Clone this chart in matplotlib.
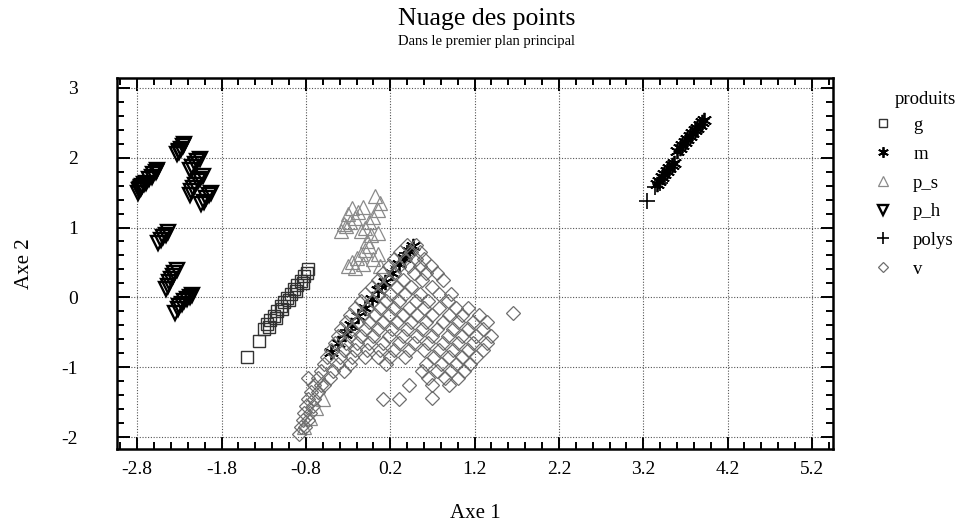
import numpy as np
import matplotlib
matplotlib.use("Agg")
import matplotlib.pyplot as plt
from matplotlib.ticker import FixedLocator

plt.rcParams['font.family'] = ['Liberation Serif', 'DejaVu Serif']
plt.rcParams['axes.unicode_minus'] = False

# ---- data ----
g_pts = [(-1.50, -0.86), (-1.36, -0.62), (-1.30, -0.45), (-1.26, -0.38), (-1.24, -0.42),
         (-1.22, -0.32), (-1.18, -0.26), (-1.16, -0.29), (-1.14, -0.20), (-1.10, -0.13),
         (-1.08, -0.16), (-1.06, -0.07), (-1.02, -0.01), (-1.00, -0.04), (-0.98, 0.05),
         (-0.94, 0.12), (-0.92, 0.09), (-0.90, 0.18), (-0.86, 0.24), (-0.84, 0.21),
         (-0.82, 0.30), (-0.79, 0.35), (-0.78, 0.40)]

m_pts = [(3.60, 2.10), (3.63, 2.14), (3.66, 2.18), (3.69, 2.22), (3.72, 2.27), (3.75, 2.31),
         (3.78, 2.35), (3.81, 2.39), (3.84, 2.43), (3.87, 2.47), (3.90, 2.51), (3.92, 2.54),
         (3.36, 1.62), (3.39, 1.67), (3.42, 1.72), (3.45, 1.77), (3.48, 1.81), (3.51, 1.85),
         (3.54, 1.89), (3.57, 1.93),
         (-0.50, -0.78), (-0.42, -0.65), (-0.34, -0.52), (-0.26, -0.40), (-0.18, -0.27),
         (-0.10, -0.15), (-0.02, -0.02), (0.06, 0.10), (0.14, 0.22), (0.22, 0.35),
         (0.30, 0.48), (0.36, 0.57), (0.42, 0.66), (0.47, 0.74)]

p_s_pts = [(-0.38, 0.95), (-0.35, 1.05), (-0.33, 1.02), (-0.30, 1.20), (-0.28, 1.08),
           (-0.25, 1.28), (-0.22, 1.14), (-0.18, 1.22), (-0.15, 0.95), (-0.12, 1.30),
           (-0.10, 1.00), (-0.05, 1.08), (-0.03, 0.90), (0.00, 1.15), (0.02, 1.45),
           (0.05, 1.25), (0.05, 0.92), (0.08, 1.35),
           (-0.30, 0.45), (-0.25, 0.50), (-0.22, 0.42), (-0.20, 0.56), (-0.15, 0.62),
           (-0.12, 0.48), (-0.10, 0.68), (-0.08, 0.80), (-0.05, 0.74), (0.00, 0.55),
           (0.05, 0.62), (0.08, 0.45),
           (-0.82, -1.85), (-0.75, -1.72), (-0.68, -1.58), (-0.60, -1.45)]

p_h_pts = [(-2.79, 1.50), (-2.78, 1.53), (-2.77, 1.55), (-2.76, 1.57), (-2.75, 1.58),
           (-2.74, 1.60), (-2.72, 1.62), (-2.70, 1.64), (-2.66, 1.70), (-2.63, 1.73),
           (-2.61, 1.76), (-2.58, 1.80), (-2.56, 1.83),
           (-2.33, 2.05), (-2.31, 2.08), (-2.30, 2.10), (-2.28, 2.13), (-2.26, 2.16), (-2.24, 2.19),
           (-2.18, 1.83), (-2.15, 1.87), (-2.12, 1.91), (-2.09, 1.95), (-2.06, 1.98),
           (-2.18, 1.47), (-2.16, 1.52), (-2.14, 1.56), (-2.11, 1.61), (-2.08, 1.66),
           (-2.05, 1.70), (-2.02, 1.74),
           (-2.04, 1.33), (-2.01, 1.37), (-1.98, 1.42), (-1.95, 1.46), (-1.92, 1.50),
           (-2.55, 0.78), (-2.52, 0.82), (-2.49, 0.86), (-2.46, 0.90), (-2.43, 0.93),
           (-2.46, 0.12), (-2.44, 0.17), (-2.42, 0.22), (-2.40, 0.27), (-2.38, 0.31),
           (-2.36, 0.35), (-2.33, 0.39),
           (-2.35, -0.22), (-2.32, -0.17), (-2.30, -0.13), (-2.27, -0.09), (-2.24, -0.05),
           (-2.21, -0.02), (-2.18, 0.01), (-2.15, 0.03)]

polys_pts = [(3.25, 1.38), (3.34, 1.58), (3.40, 1.64), (-0.30, -0.46), (0.10, 0.16), (0.40, 0.63)]

v_pts = [(0.40, 0.75), (0.50, 0.75),
         (0.32, 0.65), (0.45, 0.65), (0.55, 0.65),
         (0.25, 0.55), (0.38, 0.55), (0.50, 0.55), (0.60, 0.55),
         (0.18, 0.45), (0.30, 0.45), (0.42, 0.45), (0.55, 0.45), (0.68, 0.45),
         (0.12, 0.35), (0.25, 0.35), (0.48, 0.35), (0.62, 0.35), (0.75, 0.35),
         (0.05, 0.25), (0.18, 0.25), (0.35, 0.25), (0.58, 0.25), (0.82, 0.25),
         (-0.02, 0.15), (0.12, 0.15), (0.28, 0.15), (0.45, 0.15), (0.70, 0.15),
         (-0.10, 0.05), (0.05, 0.05), (0.20, 0.05), (0.38, 0.05), (0.55, 0.05), (0.78, 0.05), (0.92, 0.05),
         (-0.15, -0.05), (0.00, -0.05), (0.15, -0.05), (0.30, -0.05), (0.50, -0.05), (0.65, -0.05), (0.88, -0.05),
         (-0.22, -0.15), (-0.08, -0.15), (0.08, -0.15), (0.25, -0.15), (0.42, -0.15), (0.60, -0.15),
         (0.78, -0.15), (0.98, -0.15), (1.12, -0.15),
         (-0.28, -0.25), (-0.12, -0.25), (0.02, -0.25), (0.18, -0.25), (0.35, -0.25), (0.52, -0.25),
         (0.70, -0.25), (0.90, -0.25), (1.05, -0.25), (1.25, -0.25),
         (-0.32, -0.35), (-0.18, -0.35), (-0.05, -0.35), (0.12, -0.35), (0.28, -0.35), (0.45, -0.35),
         (0.62, -0.35), (0.82, -0.35), (1.00, -0.35), (1.18, -0.35), (1.35, -0.35),
         (-0.38, -0.45), (-0.25, -0.45), (-0.10, -0.45), (0.05, -0.45), (0.22, -0.45), (0.40, -0.45),
         (0.58, -0.45), (0.75, -0.45), (0.95, -0.45), (1.12, -0.45), (1.30, -0.45),
         (-0.42, -0.55), (-0.28, -0.55), (-0.15, -0.55), (0.00, -0.55), (0.18, -0.55), (0.35, -0.55),
         (0.52, -0.55), (0.70, -0.55), (0.88, -0.55), (1.05, -0.55), (1.22, -0.55), (1.40, -0.55),
         (-0.45, -0.65), (-0.32, -0.65), (-0.20, -0.65), (-0.05, -0.65), (0.12, -0.65), (0.30, -0.65),
         (0.48, -0.65), (0.65, -0.65), (0.82, -0.65), (1.00, -0.65), (1.18, -0.65), (1.35, -0.65),
         (-0.50, -0.75), (-0.35, -0.75), (-0.22, -0.75), (-0.08, -0.75), (0.08, -0.75), (0.25, -0.75),
         (0.42, -0.75), (0.60, -0.75), (0.78, -0.75), (0.95, -0.75), (1.12, -0.75), (1.30, -0.75),
         (-0.55, -0.85), (-0.40, -0.85), (-0.25, -0.85), (-0.10, -0.85), (0.05, -0.85), (0.20, -0.85),
         (0.38, -0.85), (0.72, -0.85), (0.90, -0.85), (1.05, -0.85), (1.22, -0.85),
         (-0.58, -0.95), (-0.42, -0.95), (-0.28, -0.95), (0.15, -0.95), (0.62, -0.95), (0.80, -0.95),
         (0.98, -0.95), (1.15, -0.95),
         (-0.62, -1.05), (-0.48, -1.05), (-0.35, -1.05), (0.58, -1.05), (0.75, -1.05), (0.92, -1.05), (1.08, -1.05),
         (-0.66, -1.15), (-0.52, -1.15), (0.65, -1.15), (0.85, -1.15), (1.00, -1.15),
         (-0.70, -1.25), (-0.58, -1.25), (0.42, -1.25), (0.70, -1.25), (0.90, -1.25),
         (0.12, -1.46), (0.30, -1.46), (0.70, -1.44), (1.66, -0.23), (-0.77, -1.16),
         (-0.66, -1.35), (-0.62, -1.25), (-0.74, -1.35), (-0.70, -1.45), (-0.78, -1.45),
         (-0.72, -1.55), (-0.80, -1.55), (-0.75, -1.65), (-0.82, -1.65), (-0.78, -1.75),
         (-0.84, -1.75), (-0.81, -1.85), (-0.86, -1.85), (-0.88, -1.95)]

x_ticks = [-2.8, -1.8, -0.8, 0.2, 1.2, 2.2, 3.2, 4.2, 5.2]
x_tick_labels = ["-2.8", "-1.8", "-0.8", "0.2", "1.2", "2.2", "3.2", "4.2", "5.2"]
y_ticks = [-2, -1, 0, 1, 2, 3]

# ---- figure ----
fig = plt.figure(figsize=(9.74, 5.27), dpi=100)
ax = fig.add_axes([117 / 974, 1 - 449 / 527, (833 - 117) / 974, (449 - 78) / 527])

styles = [
    ("g", g_pts, dict(marker="s", ms=8.5, mfc="none", mec="#333333", mew=1.0)),
    ("m", m_pts, dict(marker=(6, 2, 0), ms=11, mfc="none", mec="black", mew=1.3)),
    ("p_s", p_s_pts, dict(marker="^", ms=10, mfc="none", mec="#8a8a8a", mew=0.9)),
    ("p_h", p_h_pts, dict(marker="v", ms=10, mfc="none", mec="black", mew=1.7)),
    ("polys", polys_pts, dict(marker="+", ms=12, mfc="none", mec="black", mew=1.2)),
    ("v", v_pts, dict(marker="D", ms=7.5, mfc="none", mec="#6e6e6e", mew=0.9)),
]

for name, pts, st in styles:
    arr = np.array(pts)
    ax.plot(arr[:, 0], arr[:, 1], linestyle="none", label=name, **st)

ax.set_xlim(-3.04, 5.45)
ax.set_ylim(-2.17, 3.14)

ax.xaxis.set_major_locator(FixedLocator(x_ticks))
ax.set_xticklabels(x_tick_labels)
ax.xaxis.set_minor_locator(FixedLocator(np.arange(-3.0, 5.45, 0.2)))
ax.yaxis.set_major_locator(FixedLocator(y_ticks))
ax.yaxis.set_minor_locator(FixedLocator(np.arange(-2.0, 3.1, 0.2)))

ax.tick_params(which="both", direction="in", top=True, right=True, width=1.4)
ax.tick_params(which="major", length=9, labelsize=14)
ax.tick_params(axis="x", which="major", pad=9)
ax.tick_params(axis="y", which="major", pad=28)
ax.tick_params(which="minor", length=5)
for sp in ax.spines.values():
    sp.set_linewidth(1.8)

ax.grid(True, which="major", color="#555555", linestyle=(0, (1, 1.5)), linewidth=0.8)
ax.set_axisbelow(True)

ax.set_xlabel("Axe 1", fontsize=15, labelpad=18)
ax.set_ylabel("Axe 2", fontsize=15, labelpad=20)

fig.text(0.5, 1 - 19 / 527, "Nuage des points", ha="center", va="center", fontsize=18.5)
fig.text(0.5, 1 - 41 / 527, "Dans le premier plan principal", ha="center", va="center", fontsize=10.5)

fig.text(925 / 974, 1 - 100 / 527, "produits", ha="center", va="center", fontsize=13.5)
ax.legend(loc="upper left", bbox_to_anchor=(855 / 974, 1 - 100 / 527),
          bbox_transform=fig.transFigure, frameon=False,
          fontsize=13.5, markerscale=0.7, labelspacing=0.62,
          handlelength=1.2, handletextpad=1.0)

fig.savefig("out.png", dpi=100)
